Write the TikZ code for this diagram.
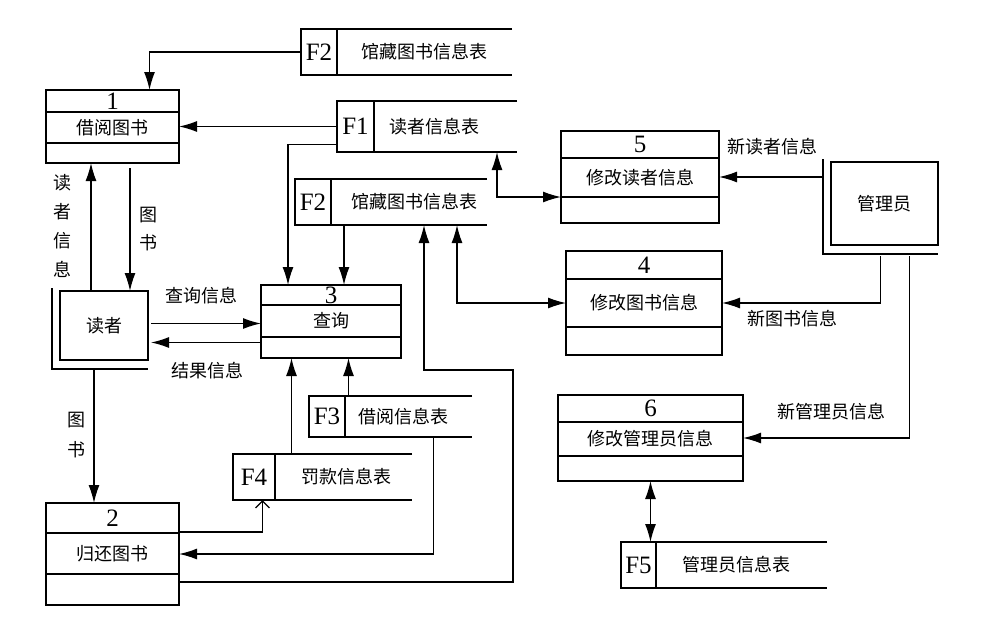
\documentclass[tikz,border=0pt]{standalone}
\usepackage{fontspec}
\setmainfont{Noto Sans CJK SC}
\newfontfamily\numfont{Liberation Serif}
\usetikzlibrary{arrows.meta,calc}

\begin{document}
\begin{tikzpicture}[x=1pt,y=-1pt,line width=1.3pt,
  arr/.style={-{Latex[length=18pt,width=11pt]}},
  arrb/.style={{Latex[length=18pt,width=11pt]}-{Latex[length=18pt,width=11pt]}},
  oarr/.style={-{Straight Barb[length=7pt,width=14pt]}},
  lbl/.style={font=\fontsize{18}{20}\selectfont,inner sep=0pt},
  num/.style={font=\numfont\fontsize{25}{25}\selectfont,inner sep=0pt},
  box/.style={inner sep=0pt,outer sep=0pt}]
\useasboundingbox (0,0) rectangle (987,618);
% processes: name/left/top/right/bottom/line1/line2/number/text
\foreach \nm/\xl/\yt/\xr/\yb/\da/\db/\no/\txt in {
  p1/46/90/179/163/112/143/1/借阅图书,
  p2/46/503/179/605/533/574/2/归还图书,
  p3/261/285/401/358/305/337/3/查询,
  p4/566/251/722/355/279/327/4/修改图书信息,
  p5/561/131/719/223/158/197/5/修改读者信息,
  p6/558/395/743/481/422/456/6/修改管理员信息}
{
\node[box,draw,minimum width={\xr-\xl},minimum height={\yb-\yt}] (\nm) at ({(\xl+\xr)/2},{(\yt+\yb)/2}) {};
\draw (\xl,\da) -- (\xr,\da) (\xl,\db) -- (\xr,\db);
\node[num] (\nm no) at ({(\xl+\xr)/2},{(\yt+\da)/2}) {\no};
\node[lbl] (\nm txt) at ({(\xl+\xr)/2},{(\da+\db)/2}) {\txt};
}
% data stores: name/left/divider/right/top/bottom/id/text/text x
\foreach \nm/\xl/\xd/\xr/\yt/\yb/\id/\txt/\tx in {
  f2a/301/337/512/29/75/F2/馆藏图书信息表/424,
  f1/337/374/517/101/152/F1/读者信息表/434,
  f2b/295/331/487/179/225/F2/馆藏图书信息表/414,
  f3/309/345/472/396/437/F3/借阅信息表/403,
  f4/233/275/412/454/500/F4/罚款信息表/346,
  f5/621/656/827/542/588/F5/管理员信息表/736}
{
\node[box,minimum width={\xr-\xl},minimum height={\yb-\yt}] (\nm) at ({(\xl+\xr)/2},{(\yt+\yb)/2}) {};
\draw (\xr,\yt) -- (\xl,\yt) -- (\xl,\yb) -- (\xr,\yb) (\xd,\yt) -- (\xd,\yb);
\node[num] (\nm id) at ({(\xl+\xd)/2},{(\yt+\yb)/2}) {\id};
\node[lbl] (\nm txt) at (\tx,{(\yt+\yb)/2}) {\txt};
}
% external entities
\foreach \nm/\xl/\yt/\xr/\yb/\txt in {rd/60/291/148/360/读者, adm/831/162/938/245/管理员}
{
\node[box,draw,lbl,minimum width={\xr-\xl},minimum height={\yb-\yt}] (\nm) at ({(\xl+\xr)/2},{(\yt+\yb)/2}) {\txt};
\draw (\xl-8,\yt-3) -- (\xl-8,\yb+9) -- (\xr,\yb+9);
}
\coordinate (admL) at (823,256);
\coordinate (bend) at (513,370);
% flows
\draw[arr] (f2a.west) -| ($(p1.north)+(37,0)$);
\draw[arr] (f1.west) -- (f1.west -| p1.east);
\draw[arr] ($(f1.west)+(0,18)$) -| ($(p3.north)+(-43,0)$);
\draw[arr] ($(f2b.south)+(-47,0)$) -- ($(f2b.south |- p3.north)+(-47,0)$);
\draw[arrb] ($(f2b.south)+(66,0)$) |- (p4.west);
\draw[arr] ($(p2.east)+(0,28)$) -| (bend) -| ($(f2b.south)+(33,0)$);
\draw[arrb] ($(f1.south)+(70,0)$) |- ($(p5.west)+(0,20)$);
\draw[arr] (p5.east -| admL) -- (p5.east);
\draw[arr] ($(adm.south |- admL)+(-4,0)$) |- (p4.east);
\draw[arr] ($(adm.south |- admL)+(25,0)$) |- (p6.east);
\draw[arrb] (p6.south) -- (p6.south |- f5.north);
\draw[arr] ($(rd.north)+(-13,0)$) -- ($(rd.north |- p1.south)+(-13,0)$);
\draw[arr] ($(rd.north |- p1.south)+(26,5)$) -- ($(rd.north)+(26,0)$);
\draw[arr] ($(rd.east)+(3,-2)$) -- ($(rd.east -| p3.west)+(0,-2)$);
\draw[arr] ($(rd.east -| p3.west)+(0,17)$) -- ($(rd.east)+(3,17)$);
\draw[arr] ($(rd.south)+(-10,10)$) -- ($(rd.south |- p2.north)+(-10,0)$);
\draw[oarr] ($(p2.east)+(0,-22)$) -| ($(f4.south)+(-60,0)$);
\draw[arr] ($(f4.north)+(-31,0)$) -- ($(f4.north |- p3.south)+(-31,0)$);
\draw[arr] ($(f3.north)+(-42,0)$) -- ($(f3.north |- p3.south)+(-42,0)$);
\draw[arr] ($(f3.south)+(43,0)$) |- (p2.east);
% flow labels
\node[lbl] (lq) at (201,296) {查询信息};
\node[lbl] (lr) at (207,371) {结果信息};
\node[lbl] (lnr) at (772,147) {新读者信息};
\node[lbl] (lnb) at (792,319) {新图书信息};
\node[lbl] (lna) at (831,412) {新管理员信息};
\node[lbl,align=center,font=\fontsize{18}{29}\selectfont] (lri) at (62,226) {读\\者\\信\\息};
\node[lbl,align=center,font=\fontsize{18}{28}\selectfont] (lb1) at (148,229) {图\\书};
\node[lbl,align=center,font=\fontsize{18}{30}\selectfont] (lb2) at (76,435) {图\\书};
\end{tikzpicture}
\end{document}
